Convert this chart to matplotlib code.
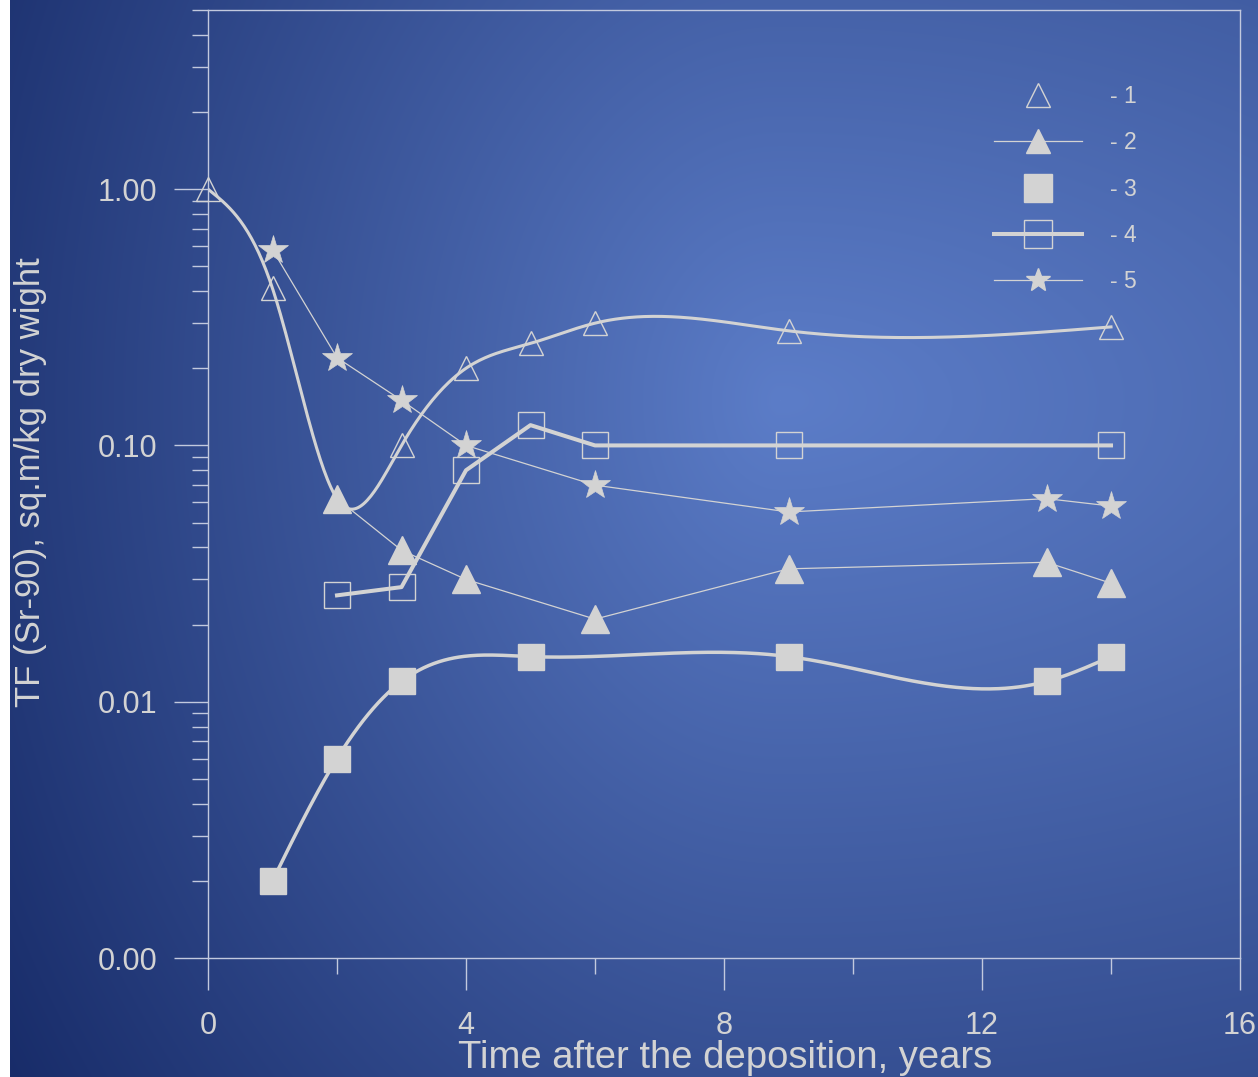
import numpy as np
import matplotlib
matplotlib.use("Agg")
import matplotlib.pyplot as plt
from matplotlib.lines import Line2D
from matplotlib.ticker import FixedLocator, FixedFormatter, LogLocator, NullFormatter

plt.rcParams["font.family"] = ["Liberation Sans", "DejaVu Sans"]

# Transfer factor TF (Sr-90) against years after deposition, five series
x1 = [0, 1, 2, 3, 4, 5, 6, 9, 14]
tf1 = [1.00, 0.41, 0.062, 0.10, 0.20, 0.25, 0.30, 0.28, 0.29]

x2 = [2, 3, 4, 6, 9, 13, 14]
tf2 = [0.062, 0.039, 0.030, 0.021, 0.033, 0.035, 0.029]

x3 = [1, 2, 3, 5, 9, 13, 14]
tf3 = [0.002, 0.006, 0.012, 0.015, 0.015, 0.012, 0.015]

x4 = [2, 3, 4, 5, 6, 9, 14]
tf4 = [0.026, 0.028, 0.08, 0.12, 0.10, 0.10, 0.10]

x5 = [1, 2, 3, 4, 6, 9, 13, 14]
tf5 = [0.58, 0.22, 0.15, 0.10, 0.07, 0.055, 0.062, 0.058]

series_labels = ["- 1", "- 2", "- 3", "- 4", "- 5"]
y_ticks = [0.001, 0.01, 0.1, 1.0]
y_tick_labels = ["0.00", "0.01", "0.10", "1.00"]
x_ticks = [0, 4, 8, 12, 16]
x_minor = [2, 6, 10, 14]

FG = "#d3d3d3"
SPINE = "#c2c9de"
LIGHT = np.array([92, 125, 200]) / 255.0
DARK = np.array([19, 38, 98]) / 255.0


def _spline(x, y, n=500):
    """Natural cubic spline through the points in log10(y)."""
    x = np.asarray(x, float)
    ly = np.log10(np.asarray(y, float))
    k = len(x)
    h = np.diff(x)
    A = np.zeros((k, k))
    b = np.zeros(k)
    A[0, 0] = A[-1, -1] = 1.0
    for i in range(1, k - 1):
        A[i, i - 1] = h[i - 1]
        A[i, i] = 2 * (h[i - 1] + h[i])
        A[i, i + 1] = h[i]
        b[i] = 3 * ((ly[i + 1] - ly[i]) / h[i] - (ly[i] - ly[i - 1]) / h[i - 1])
    c = np.linalg.solve(A, b)
    xs = np.linspace(x[0], x[-1], n)
    idx = np.clip(np.searchsorted(x, xs) - 1, 0, k - 2)
    dx = xs - x[idx]
    hi = h[idx]
    bi = (ly[idx + 1] - ly[idx]) / hi - hi * (2 * c[idx] + c[idx + 1]) / 3
    di = (c[idx + 1] - c[idx]) / (3 * hi)
    ys = ly[idx] + bi * dx + c[idx] * dx ** 2 + di * dx ** 3
    return xs, 10 ** ys


W, H = 1258, 1077
fig = plt.figure(figsize=(W / 100, H / 100), dpi=100, facecolor="white")

# blue backdrop, lighter towards the middle-right, dark on the left
bg = fig.add_axes([10 / W, 0, (W - 10) / W, 1])
yy, xx = np.mgrid[0:H, 0:W - 10].astype(float)
xx += 10
ddx = xx - 780
rx = np.where(ddx < 0, 1000.0, 2500.0)
loss = np.clip(np.sqrt((ddx / rx) ** 2 + ((yy - 400) / 1300.0) ** 2), 0, 1)
rgb = LIGHT[None, None, :] * (1 - loss[..., None]) + DARK[None, None, :] * loss[..., None]
bg.imshow(rgb, aspect="auto", interpolation="bilinear")
bg.set_axis_off()

ax = fig.add_axes([208 / W, 119 / H, 1032 / W, 948 / H])
ax.patch.set_alpha(0)

# 1: open triangles on a smooth curve
sx, sy = _spline(x1, tf1)
ax.plot(sx, sy, color=FG, lw=2.2, zorder=2)
ax.plot(x1, tf1, ls="none", marker="^", ms=17, mfc="none", mec=FG, mew=1.0,
        zorder=3, clip_on=False)

# 4: open squares joined by a heavy line
ax.plot(x4, tf4, color=FG, lw=2.9, zorder=2)
ax.plot(x4, tf4, ls="none", marker="s", ms=18.5, mfc="none", mec=FG, mew=1.0, zorder=3)

# 2: filled triangles, thin line
ax.plot(x2, tf2, color=FG, lw=0.9, marker="^", ms=20.5, mfc=FG, mec=FG, mew=1.0, zorder=4)

# 3: filled squares on a smooth curve
sx, sy = _spline(x3, tf3)
ax.plot(sx, sy, color=FG, lw=2.5, zorder=2)
ax.plot(x3, tf3, ls="none", marker="s", ms=18.5, mfc=FG, mec=FG, mew=1.0, zorder=4)

# 5: stars, thin line
ax.plot(x5, tf5, color=FG, lw=0.9, marker="*", ms=22, mfc=FG, mec=FG, mew=0.5, zorder=4)

ax.set_yscale("log")
ax.set_ylim(0.001, 5)
ax.set_xlim(0, 16)

ax.yaxis.set_major_locator(FixedLocator(y_ticks))
ax.yaxis.set_major_formatter(FixedFormatter(y_tick_labels))
ax.yaxis.set_minor_locator(LogLocator(base=10, subs=np.arange(2, 10), numticks=20))
ax.yaxis.set_minor_formatter(NullFormatter())
ax.xaxis.set_major_locator(FixedLocator(x_ticks))
ax.xaxis.set_minor_locator(FixedLocator(x_minor))

for s in ax.spines.values():
    s.set_color(SPINE)
    s.set_linewidth(1.0)

ax.tick_params(axis="y", which="major", direction="out", length=24.5, width=1.0,
               color=SPINE, labelcolor=FG, labelsize=22, pad=12)
ax.tick_params(axis="y", which="minor", direction="out", length=11.5, width=1.0,
               color=SPINE)
ax.tick_params(axis="x", which="major", direction="out", length=23, width=1.0,
               color=SPINE, labelcolor=FG, labelsize=22, pad=15)
ax.tick_params(axis="x", which="minor", direction="out", length=11.5, width=1.0,
               color=SPINE)

fig.text(725 / W, 1 - 1068 / H, "Time after the deposition, years",
         ha="center", va="baseline", fontsize=27.5, color=FG)
fig.text(31 / W, 1 - 482 / H, "TF (Sr-90), sq.m/kg dry wight",
         ha="center", va="center", rotation=90, fontsize=25, color=FG)

handles = [
    Line2D([], [], ls="none", marker="^", ms=17, mfc="none", mec=FG, mew=1.0),
    Line2D([], [], color=FG, lw=0.9, marker="^", ms=17, mfc=FG, mec=FG),
    Line2D([], [], ls="none", marker="s", ms=20, mfc=FG, mec=FG),
    Line2D([], [], color=FG, lw=2.9, marker="s", ms=20, mfc="none", mec=FG, mew=1.0),
    Line2D([], [], color=FG, lw=0.9, marker="*", ms=18, mfc=FG, mec=FG),
]
leg = ax.legend(handles, series_labels, loc="upper left",
                bbox_to_anchor=(994 / W, 1 - 85 / H), bbox_transform=fig.transFigure,
                frameon=False, fontsize=16.5, handlelength=3.85, handletextpad=1.2,
                labelspacing=1.015, borderpad=0, borderaxespad=0)
for t in leg.get_texts():
    t.set_color(FG)

fig.savefig("out.png", dpi=100, facecolor="white")
